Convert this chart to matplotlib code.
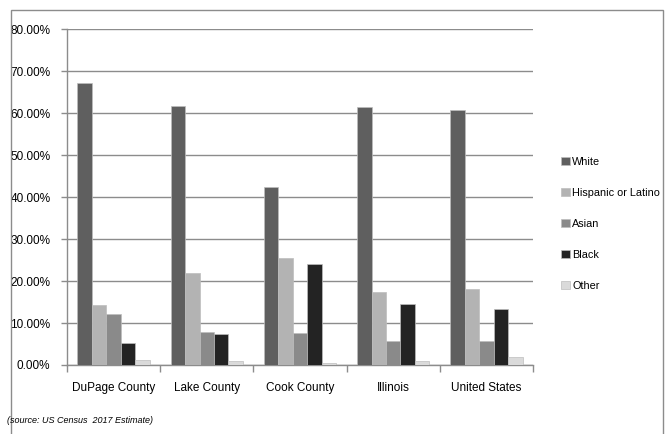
import matplotlib
matplotlib.use("Agg")
import matplotlib.pyplot as plt
from matplotlib.patches import Rectangle
from matplotlib.ticker import FuncFormatter
import numpy as np

plt.rcParams['font.family'] = ['Liberation Sans Narrow', 'Liberation Sans', 'DejaVu Sans']

regions = ['DuPage County', 'Lake County', 'Cook County', 'Illinois', 'United States']
groups = ['White', 'Hispanic or Latino', 'Asian', 'Black', 'Other']
white = [67.1, 61.7, 42.3, 61.4, 60.7]
hispanic = [14.3, 21.8, 25.5, 17.3, 18.1]
asian = [12.1, 7.9, 7.7, 5.6, 5.7]
black = [5.2, 7.4, 24.0, 14.5, 13.4]
other = [1.2, 0.9, 0.5, 1.0, 2.0]
colors = ['#5f5f5f', '#b3b3b3', '#8a8a8a', '#232323', '#dadada']

series = [white, hispanic, asian, black, other]

fig = plt.figure(figsize=(6.68, 4.34), dpi=100)
ax = fig.add_axes([0.1003, 0.159, 0.6977, 0.774])

x = np.arange(len(regions))
w = 0.155
for i, (vals, name) in enumerate(zip(series, groups)):
    ax.bar(x + (i - 2) * w, vals, width=w, color=colors[i], label=name,
           edgecolor='#bdbdbd', linewidth=0.5, zorder=3)

ax.set_xlim(-0.5, len(regions) - 0.5)
ax.set_ylim(0, 80)
ax.set_yticks(np.arange(0, 81, 10))
ax.yaxis.set_major_formatter(FuncFormatter(lambda v, p: '%.2f%%' % v))
ax.grid(axis='y', color='#8c8c8c', linewidth=1, zorder=0)
ax.set_axisbelow(True)

ax.set_xticks(x)
ax.set_xticklabels(regions, fontsize=8.5)
ax.set_xticks(np.arange(-0.5, len(regions)), minor=True)
ax.tick_params(axis='x', which='major', length=0, pad=12)
ax.tick_params(axis='x', which='minor', length=5, color='#8c8c8c', width=1)
ax.tick_params(axis='y', length=4, color='#8c8c8c', width=1, labelsize=8.5, pad=8)

for s in ['top', 'right']:
    ax.spines[s].set_visible(False)
for s in ['left', 'bottom']:
    ax.spines[s].set_color('#8c8c8c')
    ax.spines[s].set_linewidth(1)

ax.legend(loc='center left', bbox_to_anchor=(1.04, 0.42), frameon=False,
          fontsize=7.8, handlelength=0.75, handleheight=0.75, handletextpad=0.25,
          labelspacing=1.95)

fig.text(0.011, 0.032, '(source: US Census  2017 Estimate)', fontsize=6.5,
         style='italic', ha='left', va='center')

fig.patches.append(Rectangle((0.0165, -0.1), 0.976, 1.077, transform=fig.transFigure,
                             fill=False, edgecolor='#8c8c8c', linewidth=1))

fig.savefig('out.png', dpi=100)
